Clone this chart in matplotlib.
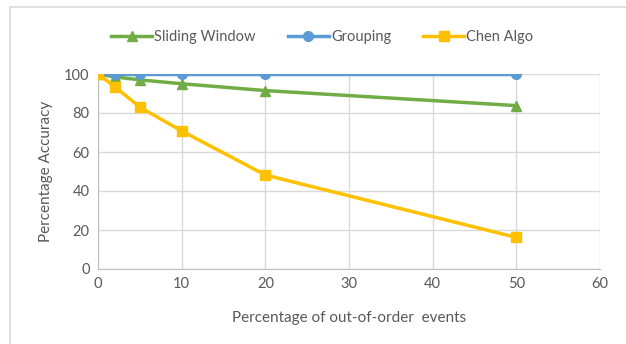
import matplotlib
matplotlib.use('agg')
import matplotlib.pyplot as plt
from matplotlib.patches import Rectangle

# out-of-order percentage vs accuracy
pct_out_of_order = [0, 2, 5, 10, 20, 50]
sliding_window = [100, 98.5, 97, 95, 91.5, 83.8]
grouping = [100, 100, 100, 100, 100, 100]
chen_algo = [100, 93.5, 83, 70.8, 48.2, 16.2]

text_col = '#595959'
grid_col = '#d9d9d9'
plt.rcParams['font.family'] = ['Lato', 'DejaVu Sans']

fig = plt.figure(figsize=(6.26, 3.44), dpi=100)
ax = fig.add_axes([98 / 626, 1 - 269 / 344, 502 / 626, 195 / 344])

ax.plot(pct_out_of_order, sliding_window, color='#70ad47', lw=2.5, marker='^',
        ms=7, label='Sliding Window', zorder=3)
ax.plot(pct_out_of_order, grouping, color='#5b9bd5', lw=2.5, marker='o',
        ms=7, label='Grouping', zorder=3)
ax.plot(pct_out_of_order, chen_algo, color='#ffc000', lw=2.5, marker='s',
        ms=7, label='Chen Algo', zorder=4)

ax.set_xlim(0, 60)
ax.set_ylim(0, 100)
ax.set_xticks(range(0, 61, 10))
ax.set_yticks(range(0, 101, 20))
ax.grid(True, color=grid_col, lw=1)
ax.set_axisbelow(True)
for s in ['top', 'right']:
    ax.spines[s].set_visible(False)
for s in ['left', 'bottom']:
    ax.spines[s].set_color('#bfbfbf')
ax.tick_params(length=0, colors=text_col, labelsize=10.5, pad=6)
ax.set_xlabel('Percentage of out-of-order  events', color=text_col, fontsize=11, labelpad=14)
ax.set_ylabel('Percentage Accuracy', color=text_col, fontsize=11, labelpad=8)
for lbl in ax.get_xticklabels() + ax.get_yticklabels():
    lbl.set_color(text_col)

leg = fig.legend(loc='center', bbox_to_anchor=(0.515, 1 - 37 / 344), ncol=3,
                 frameon=False, fontsize=10.5, handlelength=2.8, handletextpad=0.15,
                 columnspacing=2.2, labelcolor=text_col)

# chart frame
fig.patches.append(Rectangle((10 / 626, -0.1), 1.2, 1.1 - 7 / 344,
                             transform=fig.transFigure, fill=False,
                             edgecolor='#d9d9d9', lw=1.2))

fig.savefig('out.png', dpi=100)
